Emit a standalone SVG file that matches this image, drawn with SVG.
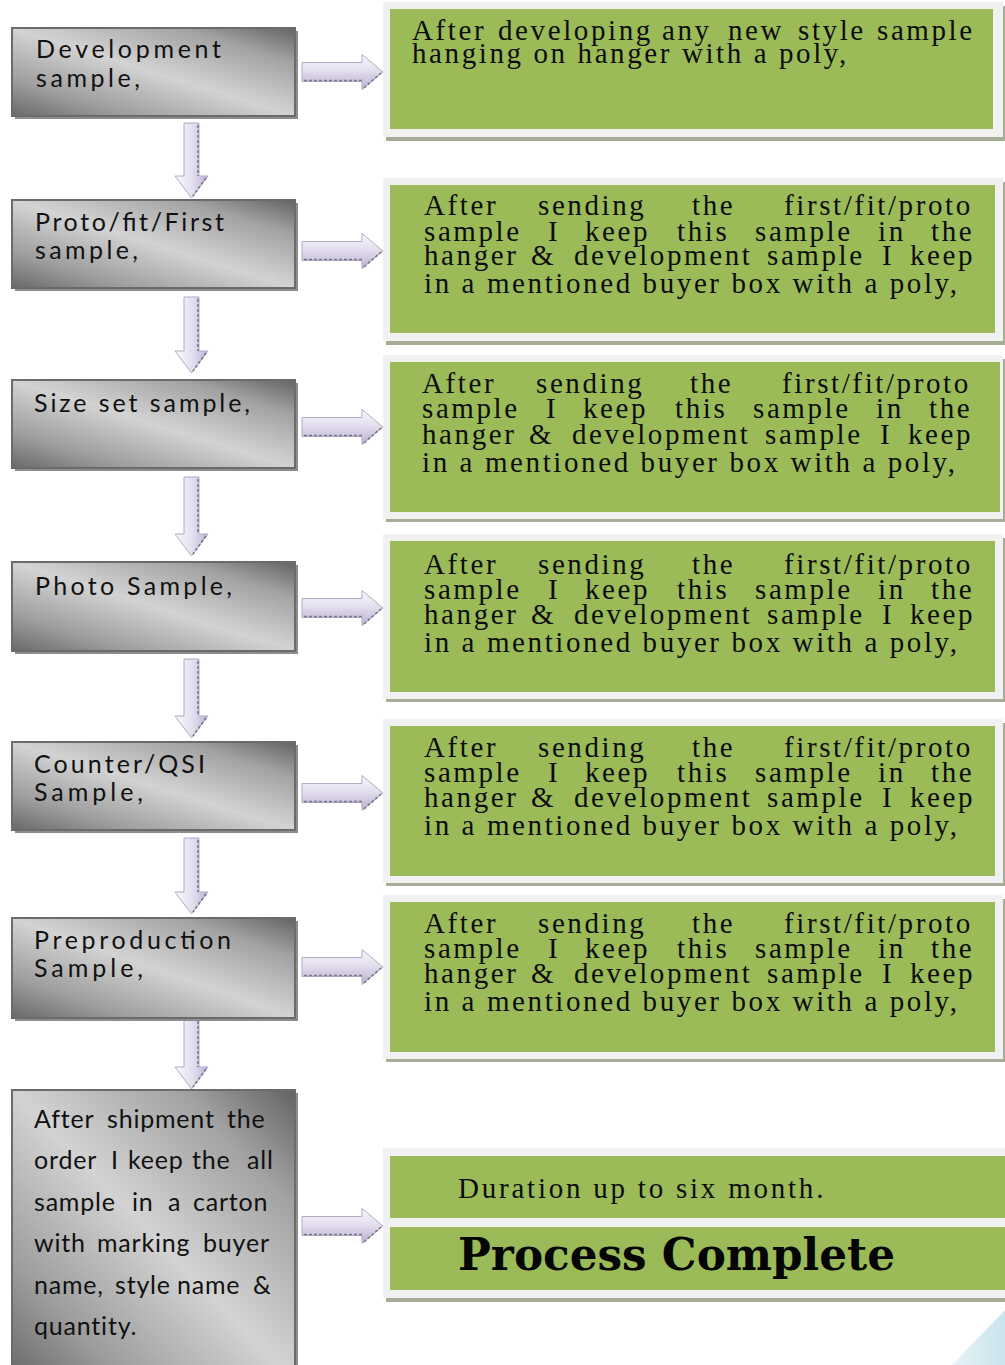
<svg xmlns="http://www.w3.org/2000/svg" width="1005" height="1365" viewBox="0 0 1005 1365">
  <defs>
    <!-- brushed steel fill for the step boxes -->
    <linearGradient id="steel" x1="0" y1="1" x2="1" y2="0">
      <stop offset="0" stop-color="#686868"/>
      <stop offset="0.2" stop-color="#9c9c9c"/>
      <stop offset="0.5" stop-color="#d3d3d3"/>
      <stop offset="0.8" stop-color="#a2a2a2"/>
      <stop offset="1" stop-color="#636363"/>
    </linearGradient>
    <linearGradient id="hfill" x1="0" y1="0" x2="0" y2="1">
      <stop offset="0" stop-color="#f8f7fc"/>
      <stop offset="0.45" stop-color="#e4dfee"/>
      <stop offset="1" stop-color="#b9b0cf"/>
    </linearGradient>
    <linearGradient id="vfill" x1="0" y1="0" x2="1" y2="0">
      <stop offset="0" stop-color="#fbfaff"/>
      <stop offset="0.55" stop-color="#e2ddee"/>
      <stop offset="1" stop-color="#bcb3d3"/>
    </linearGradient>
    <linearGradient id="corner" x1="0" y1="0" x2="1" y2="0">
      <stop offset="0" stop-color="#e6f3f6"/>
      <stop offset="1" stop-color="#c9e4ee"/>
    </linearGradient>
    <!-- right-pointing block arrow, centred on y = 0 -->
    <path id="harrow" d="M302,-9.5 H362 V-17.5 L383,0 L362,17.5 V9.5 H302 Z"/>
    <path id="hedge" d="M304,8.5 H362 M364,16 L381,1"/>
  </defs>
  <style>
    .gb { fill: url(#steel); stroke: #6b6b6b; stroke-width: 2; }
    .gs { fill: #8d8d8d; }
    .gt { font-family: Lato, "Open Sans", "Liberation Sans", sans-serif; font-size: 25px; fill: #111; }
    .wt { letter-spacing: 0.8px; }
    .fs { fill: #a6ad97; }
    .fr { fill: #f1f1f1; }
    .gr { fill: #9bbb59; }
    .st { font-family: "Liberation Serif", "Times New Roman", serif; font-size: 29px; letter-spacing: 2.6px; fill: #0d0d0d; }
    .ha { fill: url(#hfill); stroke: #b2a9c6; stroke-width: 1; }
    .va { fill: url(#vfill); stroke: #b2a9c6; stroke-width: 1; }
    .edge { fill: none; stroke: #7b758c; stroke-width: 1.6; stroke-dasharray: 3 2; }
  </style>

  <rect width="1005" height="1365" fill="#ffffff"/>
  <polygon points="952,1365 1005,1310 1005,1365" fill="url(#corner)"/>

  <!-- connectors -->
  <g id="connectors">
    <!-- down arrows between steps -->
    <path class="va" d="M184,123 V176 H175 L191.5,198 L208,176 H199 V123 Z"/>
    <path class="edge" d="M198,125 V176 M206,178 L193,196"/>
    <path class="va" d="M184,297 V351 H175 L191.5,373 L208,351 H199 V297 Z"/>
    <path class="edge" d="M198,299 V351 M206,353 L193,371"/>
    <path class="va" d="M184,477 V534 H175 L191.5,556 L208,534 H199 V477 Z"/>
    <path class="edge" d="M198,479 V534 M206,536 L193,554"/>
    <path class="va" d="M184,659 V716 H175 L191.5,738 L208,716 H199 V659 Z"/>
    <path class="edge" d="M198,661 V716 M206,718 L193,736"/>
    <path class="va" d="M184,838 V892 H175 L191.5,914 L208,892 H199 V838 Z"/>
    <path class="edge" d="M198,840 V892 M206,894 L193,912"/>
    <path class="va" d="M184,1019 V1067 H175 L191.5,1089 L208,1067 H199 V1019 Z"/>
    <path class="edge" d="M198,1021 V1067 M206,1069 L193,1087"/>
    <!-- right arrows to the notes -->
    <use href="#harrow" class="ha" y="72"/><use href="#hedge" class="edge" y="72"/>
    <use href="#harrow" class="ha" y="251"/><use href="#hedge" class="edge" y="251"/>
    <use href="#harrow" class="ha" y="427"/><use href="#hedge" class="edge" y="427"/>
    <use href="#harrow" class="ha" y="608"/><use href="#hedge" class="edge" y="608"/>
    <use href="#harrow" class="ha" y="793"/><use href="#hedge" class="edge" y="793"/>
    <use href="#harrow" class="ha" y="967"/><use href="#hedge" class="edge" y="967"/>
    <use href="#harrow" class="ha" y="1226"/><use href="#hedge" class="edge" y="1226"/>
  </g>

  <!-- step boxes -->
  <g id="step-development">
    <rect class="gs" x="15" y="31" width="283" height="88"/>
    <rect class="gb" x="12" y="28" width="283" height="88"/>
    <text class="gt" x="36" y="58" textLength="185" lengthAdjust="spacing">Development</text>
    <text class="gt" x="36" y="87" textLength="104" lengthAdjust="spacing">sample,</text>
  </g>
  <g id="step-proto">
    <rect class="gs" x="15" y="203" width="283" height="88"/>
    <rect class="gb" x="12" y="200" width="283" height="88"/>
    <text class="gt" x="35" y="231" textLength="189" lengthAdjust="spacing">Proto/fit/First</text>
    <text class="gt" x="35" y="259" textLength="103" lengthAdjust="spacing">sample,</text>
  </g>
  <g id="step-size-set">
    <rect class="gs" x="15" y="383" width="283" height="88"/>
    <rect class="gb" x="12" y="380" width="283" height="88"/>
    <text class="gt" x="34" y="412" textLength="216" lengthAdjust="spacing">Size set sample,</text>
  </g>
  <g id="step-photo">
    <rect class="gs" x="15" y="565" width="283" height="89"/>
    <rect class="gb" x="12" y="562" width="283" height="89"/>
    <text class="gt" x="35" y="595" textLength="197" lengthAdjust="spacing">Photo Sample,</text>
  </g>
  <g id="step-counter">
    <rect class="gs" x="15" y="745" width="283" height="88"/>
    <rect class="gb" x="12" y="742" width="283" height="88"/>
    <text class="gt" x="34" y="773" textLength="171" lengthAdjust="spacing">Counter/QSI</text>
    <text class="gt" x="34" y="801" textLength="109" lengthAdjust="spacing">Sample,</text>
  </g>
  <g id="step-preproduction">
    <rect class="gs" x="15" y="921" width="283" height="100"/>
    <rect class="gb" x="12" y="918" width="283" height="100"/>
    <text class="gt" x="34" y="949" textLength="197" lengthAdjust="spacing">Preproduction</text>
    <text class="gt" x="34" y="977" textLength="109" lengthAdjust="spacing">Sample,</text>
  </g>
  <g id="step-shipment">
    <rect class="gs" x="15" y="1093" width="283" height="290"/>
    <rect class="gb" x="12" y="1090" width="283" height="290"/>
    <text class="gt wt" y="1128"><tspan x="34">After</tspan><tspan x="107">shipment</tspan><tspan x="227">the</tspan></text>
    <text class="gt wt" y="1169"><tspan x="34">order</tspan><tspan x="111">I</tspan><tspan x="128">keep</tspan><tspan x="192">the</tspan><tspan x="247">all</tspan></text>
    <text class="gt wt" y="1211"><tspan x="34">sample</tspan><tspan x="132">in</tspan><tspan x="168">a</tspan><tspan x="193">carton</tspan></text>
    <text class="gt wt" y="1252"><tspan x="34">with</tspan><tspan x="97">marking</tspan><tspan x="203">buyer</tspan></text>
    <text class="gt wt" y="1294"><tspan x="34">name,</tspan><tspan x="115">style</tspan><tspan x="177">name</tspan><tspan x="253">&amp;</tspan></text>
    <text class="gt wt" y="1335" x="34">quantity.</text>
  </g>

  <!-- note panels -->
  <g id="note-development">
    <rect class="fs" x="386" y="6" width="619" height="135"/>
    <rect class="fr" x="383" y="2" width="620" height="135"/>
    <rect class="gr" x="390" y="9" width="603" height="120"/>
    <text class="st" y="40"><tspan x="412">After</tspan><tspan x="498">developing</tspan><tspan x="662">any</tspan><tspan x="728">new</tspan><tspan x="798">style</tspan><tspan x="877">sample</tspan></text>
    <text class="st" x="412" y="63">hanging on hanger with a poly,</text>
  </g>
  <g id="note-proto">
    <rect class="fs" x="386" y="182" width="619" height="163"/>
    <rect class="fr" x="383" y="178" width="620" height="163"/>
    <rect class="gr" x="390" y="185" width="605" height="148"/>
    <text class="st" y="215"><tspan x="424">After</tspan><tspan x="538">sending</tspan><tspan x="692">the</tspan><tspan x="784">first/fit/proto</tspan></text>
    <text class="st" y="241"><tspan x="424">sample</tspan><tspan x="548">I</tspan><tspan x="585">keep</tspan><tspan x="677">this</tspan><tspan x="755">sample</tspan><tspan x="878">in</tspan><tspan x="931">the</tspan></text>
    <text class="st" y="265"><tspan x="424">hanger</tspan><tspan x="531">&amp;</tspan><tspan x="574">development</tspan><tspan x="767">sample</tspan><tspan x="882">I</tspan><tspan x="910">keep</tspan></text>
    <text class="st" x="424" y="293">in a mentioned buyer box with a poly,</text>
  </g>
  <g id="note-size-set">
    <rect class="fs" x="386" y="359" width="619" height="163"/>
    <rect class="fr" x="383" y="355" width="620" height="164"/>
    <rect class="gr" x="390" y="362" width="610" height="150"/>
    <text class="st" y="393"><tspan x="422">After</tspan><tspan x="536">sending</tspan><tspan x="690">the</tspan><tspan x="782">first/fit/proto</tspan></text>
    <text class="st" y="418"><tspan x="422">sample</tspan><tspan x="546">I</tspan><tspan x="583">keep</tspan><tspan x="675">this</tspan><tspan x="753">sample</tspan><tspan x="876">in</tspan><tspan x="929">the</tspan></text>
    <text class="st" y="444"><tspan x="422">hanger</tspan><tspan x="529">&amp;</tspan><tspan x="572">development</tspan><tspan x="765">sample</tspan><tspan x="880">I</tspan><tspan x="908">keep</tspan></text>
    <text class="st" x="422" y="472">in a mentioned buyer box with a poly,</text>
  </g>
  <g id="note-photo">
    <rect class="fs" x="386" y="538" width="619" height="164"/>
    <rect class="fr" x="383" y="534" width="620" height="165"/>
    <rect class="gr" x="390" y="541" width="605" height="151"/>
    <text class="st" y="574"><tspan x="424">After</tspan><tspan x="538">sending</tspan><tspan x="692">the</tspan><tspan x="784">first/fit/proto</tspan></text>
    <text class="st" y="599"><tspan x="424">sample</tspan><tspan x="548">I</tspan><tspan x="585">keep</tspan><tspan x="677">this</tspan><tspan x="755">sample</tspan><tspan x="878">in</tspan><tspan x="931">the</tspan></text>
    <text class="st" y="624"><tspan x="424">hanger</tspan><tspan x="531">&amp;</tspan><tspan x="574">development</tspan><tspan x="767">sample</tspan><tspan x="882">I</tspan><tspan x="910">keep</tspan></text>
    <text class="st" x="424" y="652">in a mentioned buyer box with a poly,</text>
  </g>
  <g id="note-counter">
    <rect class="fs" x="386" y="723" width="619" height="163"/>
    <rect class="fr" x="383" y="719" width="620" height="164"/>
    <rect class="gr" x="390" y="726" width="605" height="150"/>
    <text class="st" y="757"><tspan x="424">After</tspan><tspan x="538">sending</tspan><tspan x="692">the</tspan><tspan x="784">first/fit/proto</tspan></text>
    <text class="st" y="782"><tspan x="424">sample</tspan><tspan x="548">I</tspan><tspan x="585">keep</tspan><tspan x="677">this</tspan><tspan x="755">sample</tspan><tspan x="878">in</tspan><tspan x="931">the</tspan></text>
    <text class="st" y="807"><tspan x="424">hanger</tspan><tspan x="531">&amp;</tspan><tspan x="574">development</tspan><tspan x="767">sample</tspan><tspan x="882">I</tspan><tspan x="910">keep</tspan></text>
    <text class="st" x="424" y="835">in a mentioned buyer box with a poly,</text>
  </g>
  <g id="note-preproduction">
    <rect class="fs" x="386" y="899" width="619" height="163"/>
    <rect class="fr" x="383" y="895" width="620" height="164"/>
    <rect class="gr" x="390" y="902" width="605" height="150"/>
    <text class="st" y="933"><tspan x="424">After</tspan><tspan x="538">sending</tspan><tspan x="692">the</tspan><tspan x="784">first/fit/proto</tspan></text>
    <text class="st" y="958"><tspan x="424">sample</tspan><tspan x="548">I</tspan><tspan x="585">keep</tspan><tspan x="677">this</tspan><tspan x="755">sample</tspan><tspan x="878">in</tspan><tspan x="931">the</tspan></text>
    <text class="st" y="983"><tspan x="424">hanger</tspan><tspan x="531">&amp;</tspan><tspan x="574">development</tspan><tspan x="767">sample</tspan><tspan x="882">I</tspan><tspan x="910">keep</tspan></text>
    <text class="st" x="424" y="1011">in a mentioned buyer box with a poly,</text>
  </g>
  <g id="note-complete">
    <rect class="fs" x="386" y="1152" width="619" height="150"/>
    <rect class="fr" x="383" y="1148" width="622" height="150"/>
    <rect class="gr" x="390" y="1156" width="615" height="62"/>
    <rect class="gr" x="390" y="1227" width="615" height="63"/>
    <text class="st" x="458" y="1198" textLength="368" lengthAdjust="spacing">Duration up to six month.</text>
    <text x="458" y="1270" textLength="437" lengthAdjust="spacingAndGlyphs" font-family="'DejaVu Serif', 'Liberation Serif', serif" font-weight="bold" font-size="44" fill="#050505">Process Complete</text>
  </g>
</svg>
